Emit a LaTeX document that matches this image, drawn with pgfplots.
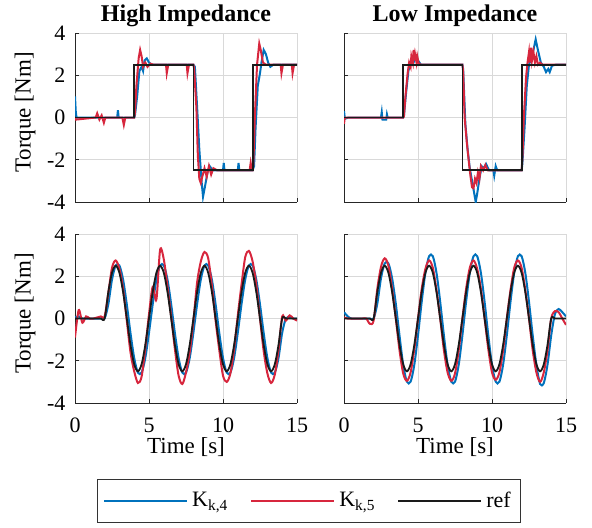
\documentclass[border=0pt]{standalone}
\usepackage{fontspec}
\setmainfont{Liberation Serif}
\usepackage{pgfplots}
\usepackage{pgfplotstable}
\pgfplotsset{compat=1.18}
\definecolor{kblue}{HTML}{0072BD}
\definecolor{kred}{HTML}{D7263D}
\definecolor{kref}{HTML}{1A1A1A}

% sine test: t, ref, high imp (b1 r1), low imp (b2 r2)
\pgfplotstableread{
t ref b1 r1 b2 r2
0 0 0.05 -0.9 0.3 0.05
0.25 0 0.1 0.4 0.1 0
0.5 0 0 -0.2 0 0
0.75 0 0 0.1 0 0
1 0 0 0 0 0
1.25 0 0 0 0 0
1.5 0 0 0.05 0 0
1.75 0 0 0.1 0 -0.25
2 0 0 0.1 0 -0.1
2.25 1.25 0.67 1.2 0.7 1.4
2.5 2.165 1.84 2.4 1.91 2.45
2.75 2.5 2.51 2.75 2.61 2.85
3 2.165 2.51 2.35 2.61 2.5
3.25 1.25 1.84 1.4 1.91 1.4
3.5 0 0.67 -0.1 0.7 0
3.75 -1.25 -0.69 -1.6 -0.8 -1.5
4 -2.165 -1.87 -2.5 -2.19 -2.6
4.25 -2.5 -2.56 -3.05 -2.99 -2.95
4.5 -2.165 -2.56 -2.75 -2.99 -2.55
4.75 -1.25 -1.87 -1.4 -2.19 -1.45
5 0 -0.67 0.2 -0.8 0
5.25 1.25 0.67 1.5 0.79 1.4
5.5 2.165 1.84 0.9 2.16 2.35
5.75 2.5 2.51 3.25 2.95 2.75
6 2.165 2.51 2.8 2.95 2.4
6.25 1.25 1.84 1.5 2.16 1.35
6.5 0 0.67 0.1 0.79 0
6.75 -1.25 -0.69 -1.45 -0.8 -1.5
7 -2.165 -1.87 -2.7 -2.19 -2.55
7.25 -2.5 -2.56 -3.1 -2.99 -2.95
7.5 -2.165 -2.56 -2.55 -2.99 -2.6
7.75 -1.25 -1.87 -1.6 -2.19 -1.5
8 0 -0.67 -0.1 -0.8 0
8.25 1.25 0.67 1.7 0.79 1.4
8.5 2.165 1.84 2.7 2.16 2.4
8.75 2.5 2.51 3.15 2.95 2.75
9 2.165 2.51 2.85 2.95 2.35
9.25 1.25 1.84 1.55 2.16 1.4
9.5 0 0.67 -0.1 0.79 0
9.75 -1.25 -0.69 -1.5 -0.8 -1.45
10 -2.165 -1.87 -2.7 -2.19 -2.55
10.25 -2.5 -2.56 -3.0 -2.99 -2.9
10.5 -2.165 -2.56 -2.6 -2.99 -2.55
10.75 -1.25 -1.87 -1.45 -2.19 -1.5
11 0 -0.67 0.15 -0.8 0
11.25 1.25 0.67 1.6 0.79 1.35
11.5 2.165 1.84 2.9 2.16 2.4
11.75 2.5 2.51 3.2 2.95 2.75
12 2.165 2.51 2.7 2.95 2.4
12.25 1.25 1.84 1.6 2.16 1.35
12.5 0 0.67 0 0.79 0
12.75 -1.25 -0.69 -1.55 -0.8 -1.5
13 -2.165 -1.87 -2.6 -2.19 -2.55
13.25 -2.5 -2.56 -3.05 -3.1 -3.0
13.5 -2.165 -2.56 -2.65 -3.05 -2.55
13.75 -1.25 -1.87 -1.5 -2.19 -1.5
14 0 -0.67 0.1 -0.8 0
14.25 0 0 -0.1 0.2 0.35
14.5 0 0.05 0.15 0.45 0.3
14.75 0 0 0 0.3 0
15 0 0 -0.1 0.1 -0.3
}\sine

\pgfplotsset{
  panel/.style={
    scale only axis, width=111pt, height=84.5pt, anchor=south west,
    xmin=0, xmax=15, ymin=-4, ymax=4,
    xtick={0,5,10,15}, ytick={-4,-2,0,2,4},
    grid=major, major grid style={black!15, line width=0.4pt},
    axis lines=left, axis line style={-, black!85, line width=0.5pt},
    tick style={black!85, line width=0.4pt}, tick align=inside,
    major tick length=2pt,
    ticklabel style={font=\fontsize{11}{11}\selectfont},
    xticklabel style={yshift=-4pt},
    yticklabel style={xshift=-1.3pt},
    /pgf/number format/assume math mode=true,
    title style={font=\bfseries\fontsize{12}{12}\selectfont,
      at={(axis description cs:0.5,1)}, anchor=base, yshift=0pt},
    label style={font=\fontsize{11.5}{11.5}\selectfont},
    ylabel style={at={(axis description cs:-0.225,0.53)}, anchor=center},
    xlabel style={at={(axis description cs:0.5,0)}, anchor=base, yshift=-25pt},
  },
  meas/.style={line width=1pt},
}

\begin{document}
\begin{tikzpicture}
\useasboundingbox (0,0) rectangle (296pt,-263.5pt);

% top left: step, high impedance
\begin{axis}[panel, at={(37.5pt,-101pt)}, title={High Impedance},
  ylabel={Torque [Nm]}, xticklabels={}]
\addplot[kblue, meas] coordinates {
(0,1.0)(0.05,0.3)(0.1,0)(2.85,0)(2.9,0.35)(2.95,0)(4,0)(4.05,0.1)(4.2,1.0)
(4.35,2.2)(4.5,2.4)(4.6,2.2)(4.7,2.7)(4.85,2.8)(5.0,2.6)(5.2,2.5)(8,2.5)
(8.1,2.4)(8.25,0.5)(8.4,-1.5)(8.55,-3.0)(8.65,-3.75)(8.8,-3.2)(8.95,-2.6)
(9.1,-2.3)(9.3,-2.5)(10,-2.5)(10.05,-2.15)(10.1,-2.5)(11,-2.5)(11.05,-2.15)
(11.1,-2.5)(12,-2.5)(12.1,-2.3)(12.2,-0.5)(12.35,1.5)(12.5,2.1)(12.6,2.6)
(12.75,3.2)(12.9,3.0)(13.05,2.6)(13.2,2.4)(13.4,2.5)(15,2.5)};
\addplot[kred, meas] coordinates {
(0,0)(0.05,-0.1)(1.4,0)(1.5,0.2)(1.65,-0.1)(1.8,0.1)(1.95,-0.25)(2.05,0)
(3.2,0)(3.3,-0.35)(3.4,0)(4,0)(4.05,0.2)(4.15,1.5)(4.3,2.8)(4.4,3.2)(4.5,2.9)
(4.6,2.4)(4.75,2.6)(4.9,2.4)(5.1,2.55)(5.3,2.5)(6.15,2.5)(6.2,2.1)(6.3,2.5)
(7.55,2.5)(7.6,2.1)(7.7,2.5)(8,2.5)(8.05,2.3)(8.2,0.5)(8.3,-1.8)(8.4,-2.9)
(8.5,-3.1)(8.6,-2.8)(8.75,-2.4)(8.9,-2.8)(9.05,-2.3)(9.2,-2.7)(9.35,-2.4)
(9.6,-2.5)(11.8,-2.5)(11.87,-2.15)(11.95,-2.5)(12,-2.5)(12.05,-2.2)(12.15,0)
(12.3,2.5)(12.45,3.5)(12.55,3.2)(12.7,2.6)(12.9,2.5)(13.9,2.5)(13.95,2.1)
(14.05,2.5)(14.65,2.5)(14.7,2.1)(14.8,2.5)(15,2.5)};
\addplot[kref, line width=0.9pt] coordinates {
(0,0)(4,0)(4,2.5)(8,2.5)(8,-2.5)(12,-2.5)(12,2.5)(15,2.5)};
\end{axis}

% top right: step, low impedance
\begin{axis}[panel, at={(172pt,-101pt)}, title={Low Impedance},
  xticklabels={}, yticklabels={}]
\addplot[kblue, meas] coordinates {
(0,0.3)(0.05,0)(0.1,-0.05)(0.3,0)(2.5,0)(2.55,0.25)(2.6,-0.1)(2.85,-0.1)
(2.9,0.15)(2.95,0)(4,0)(4.05,0.1)(4.2,1.2)(4.35,2.2)(4.45,2.5)(4.6,2.8)
(4.7,2.6)(4.85,2.9)(5.0,2.7)(5.2,2.5)(8,2.5)(8.05,2.3)(8.2,-0.3)(8.35,-1.5)
(8.5,-2.4)(8.65,-3.0)(8.8,-3.6)(8.9,-4.0)(9.0,-3.6)(9.15,-2.9)(9.3,-2.3)
(9.45,-2.4)(9.6,-2.2)(9.8,-2.5)(10.1,-2.5)(10.15,-2.75)(10.25,-2.3)
(10.35,-2.5)(12,-2.5)(12.05,-2.2)(12.2,-0.5)(12.35,1.5)(12.5,2.5)(12.65,2.8)
(12.8,3.2)(12.95,3.7)(13.1,3.2)(13.3,2.6)(13.5,2.4)(13.65,2.15)(13.8,2.3)
(13.9,2.15)(14.05,2.45)(14.3,2.5)(15,2.5)};
\addplot[kred, meas] coordinates {
(0,-0.3)(0.05,0)(2,0)(4,0)(4.05,0.05)(4.15,1.0)(4.3,2.1)(4.4,2.6)(4.5,2.4)
(4.55,2.9)(4.65,2.6)(4.7,3.2)(4.75,2.7)(4.8,3.0)(4.9,2.6)(4.95,2.9)(5.05,2.55)
(5.2,2.5)(8,2.5)(8.05,2.2)(8.15,0.0)(8.3,-1.2)(8.45,-2.2)(8.55,-2.8)
(8.65,-3.3)(8.75,-3.35)(8.85,-2.9)(8.95,-3.1)(9.05,-2.6)(9.15,-2.9)
(9.25,-2.3)(9.4,-2.5)(9.55,-2.25)(9.7,-2.5)(12,-2.5)(12.05,-2.0)(12.15,0.0)
(12.3,1.9)(12.4,2.6)(12.5,3.1)(12.55,2.6)(12.65,3.3)(12.7,2.7)(12.8,3.1)
(12.9,2.6)(13.0,2.9)(13.1,2.5)(13.25,2.6)(13.4,2.5)(15,2.5)};
\addplot[kref, line width=0.9pt] coordinates {
(0,0)(4,0)(4,2.5)(8,2.5)(8,-2.5)(12,-2.5)(12,2.5)(15,2.5)};
\end{axis}

% bottom left: sine, high impedance
\begin{axis}[panel, at={(37.5pt,-201.5pt)},
  ylabel={Torque [Nm]}, xlabel={Time [s]}]
\addplot[kblue, meas, smooth] table[x=t, y=b1] {\sine};
\addplot[kred, meas, smooth] table[x=t, y=r1] {\sine};
\addplot[kref, line width=0.9pt, smooth] table[x=t, y=ref] {\sine};
\end{axis}

% bottom right: sine, low impedance, with the legend
\begin{axis}[panel, at={(172pt,-201.5pt)}, xlabel={Time [s]},
  yticklabels={},
  legend columns=3,
  legend image code/.code={\draw[#1] (0pt,0pt) -- (41.5pt,0pt);},
  legend style={at={(axis description cs:-0.158,-0.58)}, anchor=center,
    draw=black!80, line width=0.5pt, font=\fontsize{11}{11}\selectfont,
    inner xsep=3pt, inner ysep=4pt,
    /tikz/every even column/.append style={column sep=9pt}}]
\addplot[kblue, meas, smooth] table[x=t, y=b2] {\sine};
\addlegendentry{K\textsubscript{k,4}}
\addplot[kred, meas, smooth] table[x=t, y=r2] {\sine};
\addlegendentry{K\textsubscript{k,5}}
\addplot[kref, line width=0.9pt, smooth] table[x=t, y=ref] {\sine};
\addlegendentry{ref}
\end{axis}
\end{tikzpicture}
\end{document}
